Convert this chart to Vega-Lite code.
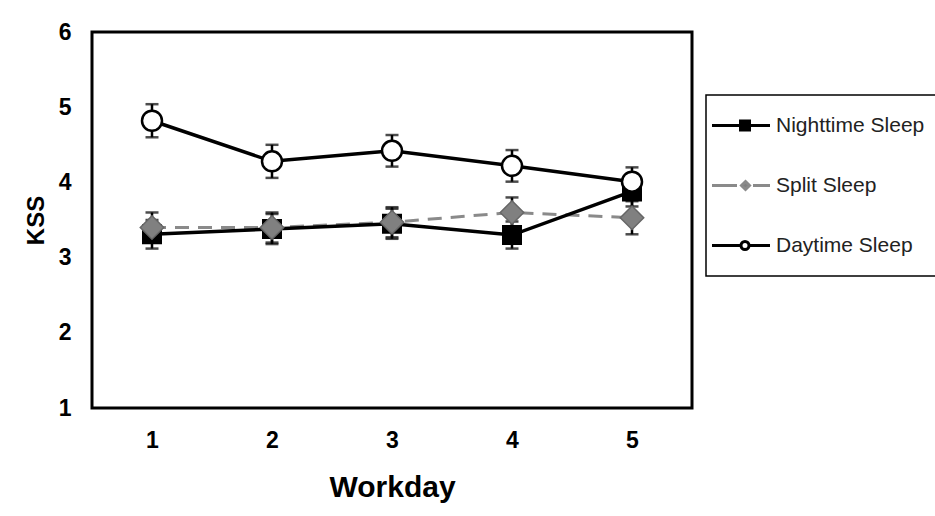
{
  "$schema": "https://vega.github.io/schema/vega-lite/v6.json",
  "width": 600,
  "height": 376,
  "autosize": "none",
  "padding": {"left": 92, "top": 32, "right": 243, "bottom": 108},
  "background": "white",
  "config": {
    "view": {"stroke": "black", "strokeWidth": 3},
    "font": "Liberation Sans",
    "axis": {
      "grid": false, "domain": false, "ticks": false,
      "labelFont": "Liberation Sans", "labelFontWeight": "bold", "labelFontSize": 23, "labelColor": "black",
      "titleFont": "Liberation Sans", "titleFontWeight": "bold", "titleColor": "black"
    },
    "legend": {
      "labelFont": "Liberation Sans", "labelFontSize": 21, "labelColor": "#222222",
      "symbolSize": 100, "symbolStrokeWidth": 3, "padding": 20, "rowPadding": 38,
      "labelOffset": 29, "strokeColor": "black", "strokeWidth": 1.5, "labelLimit": 400
    }
  },
  "data": {
    "values": [
      {"workday": 1, "series": "Nighttime Sleep", "kss": 3.31, "err": 0.19},
      {"workday": 2, "series": "Nighttime Sleep", "kss": 3.38, "err": 0.2},
      {"workday": 3, "series": "Nighttime Sleep", "kss": 3.45, "err": 0.2},
      {"workday": 4, "series": "Nighttime Sleep", "kss": 3.3, "err": 0.18},
      {"workday": 5, "series": "Nighttime Sleep", "kss": 3.88, "err": 0.2},
      {"workday": 1, "series": "Split Sleep", "kss": 3.4, "err": 0.2},
      {"workday": 2, "series": "Split Sleep", "kss": 3.4, "err": 0.2},
      {"workday": 3, "series": "Split Sleep", "kss": 3.47, "err": 0.2},
      {"workday": 4, "series": "Split Sleep", "kss": 3.6, "err": 0.2},
      {"workday": 5, "series": "Split Sleep", "kss": 3.53, "err": 0.22},
      {"workday": 1, "series": "Daytime Sleep", "kss": 4.82, "err": 0.22},
      {"workday": 2, "series": "Daytime Sleep", "kss": 4.28, "err": 0.22},
      {"workday": 3, "series": "Daytime Sleep", "kss": 4.42, "err": 0.21},
      {"workday": 4, "series": "Daytime Sleep", "kss": 4.22, "err": 0.21},
      {"workday": 5, "series": "Daytime Sleep", "kss": 4.01, "err": 0.19}
    ]
  },
  "encoding": {
    "x": {
      "field": "workday", "type": "quantitative",
      "scale": {"domain": [0.5, 5.5], "nice": false, "zero": false},
      "axis": {"values": [1, 2, 3, 4, 5], "format": "d", "title": "Workday", "titleFontSize": 30, "titlePadding": 20, "labelPadding": 21, "labelFontSize": 23}
    },
    "y": {
      "field": "kss", "type": "quantitative",
      "scale": {"domain": [1, 6], "nice": false, "zero": false},
      "axis": {"values": [1, 2, 3, 4, 5, 6], "format": "d", "title": "KSS", "titleFontSize": 24, "titlePadding": 10, "labelPadding": 21, "labelFontSize": 23}
    }
  },
  "layer": [
    {
      "transform": [{"filter": "datum.series === 'Split Sleep'"}],
      "mark": {"type": "line", "color": "#8a8a8a", "strokeWidth": 3, "strokeDash": [14, 9]}
    },
    {
      "transform": [{"filter": "datum.series !== 'Split Sleep'"}],
      "mark": {"type": "line", "color": "black", "strokeWidth": 3.5},
      "encoding": {"detail": {"field": "series", "type": "nominal"}}
    },
    {
      "mark": {"type": "errorbar", "color": "black", "ticks": {"size": 13, "thickness": 2.5, "color": "black"}, "rule": {"strokeWidth": 2.5, "color": "black"}},
      "encoding": {"yError": {"field": "err"}}
    },
    {
      "transform": [{"filter": "datum.series === 'Nighttime Sleep'"}],
      "mark": {"type": "point", "shape": "square", "filled": true, "size": 324, "fill": "black", "stroke": "black", "strokeWidth": 2, "opacity": 1}
    },
    {
      "transform": [{"filter": "datum.series === 'Split Sleep'"}],
      "mark": {"type": "point", "shape": "diamond", "filled": true, "size": 550, "fill": "#808080", "stroke": "#666666", "strokeWidth": 1.5, "opacity": 1}
    },
    {
      "transform": [{"filter": "datum.series === 'Daytime Sleep'"}],
      "mark": {"type": "point", "shape": "circle", "filled": true, "size": 400, "fill": "white", "stroke": "black", "strokeWidth": 2.5, "opacity": 1}
    },
    {
      "transform": [{"filter": "false"}],
      "mark": {"type": "point", "filled": true, "size": 100, "strokeWidth": 3, "opacity": 1},
      "encoding": {
        "shape": {
          "field": "series", "type": "nominal",
          "scale": {
            "domain": ["Nighttime Sleep", "Split Sleep", "Daytime Sleep"],
            "range": [
              "M-4.9,0H6.7M0.8,-0.9H2.6V0.9H0.8Z",
              "M-4.9,0H0.1M3.3,0H6.7M1.8,-0.8L2.6,0L1.8,0.8L1.0,0Z",
              "M-4.9,0H0.9M2.5,0H6.7M2.5,0C2.5,0.442,2.142,0.8,1.7,0.8C1.258,0.8,0.9,0.442,0.9,0C0.9,-0.442,1.258,-0.8,1.7,-0.8C2.142,-0.8,2.5,-0.442,2.5,0Z"
            ]
          },
          "legend": {"title": null, "orient": "none", "legendX": 614, "legendY": 63}
        },
        "fill": {
          "field": "series", "type": "nominal",
          "scale": {"domain": ["Nighttime Sleep", "Split Sleep", "Daytime Sleep"], "range": ["black", "#808080", "white"]},
          "legend": {"title": null, "orient": "none", "legendX": 614, "legendY": 63}
        },
        "stroke": {
          "field": "series", "type": "nominal",
          "scale": {"domain": ["Nighttime Sleep", "Split Sleep", "Daytime Sleep"], "range": ["black", "#8a8a8a", "black"]},
          "legend": {"title": null, "orient": "none", "legendX": 614, "legendY": 63}
        }
      }
    }
  ]
}
